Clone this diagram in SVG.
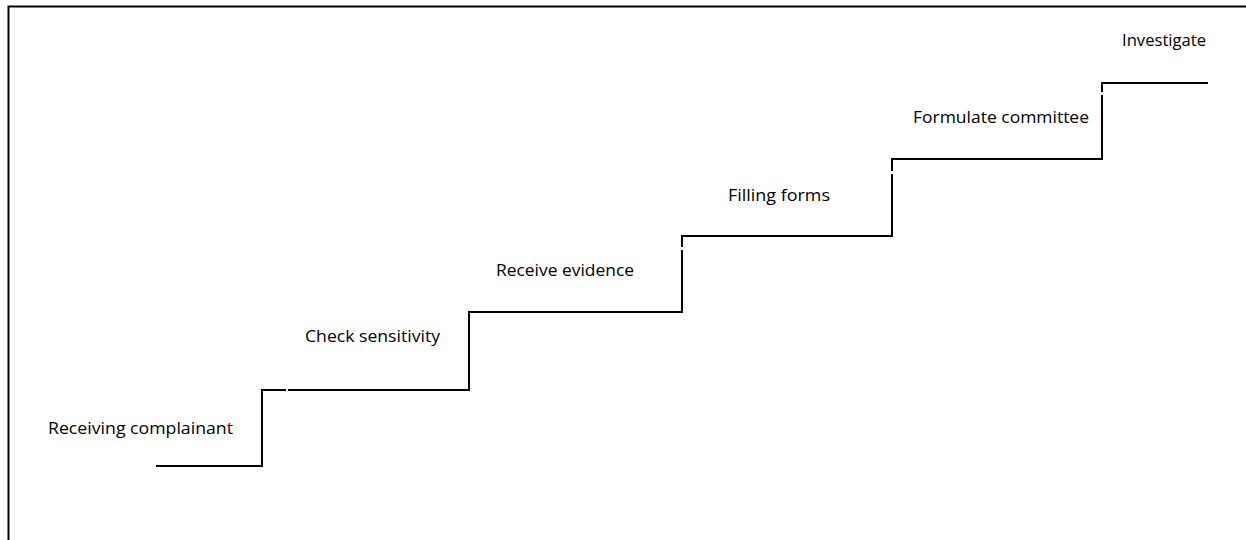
<svg xmlns="http://www.w3.org/2000/svg" width="1246" height="540" viewBox="0 0 1246 540">
<style>
.frame{fill:none;stroke:#000;stroke-width:2}
.stair{fill:none;stroke:#000;stroke-width:2}
.lbl{font-family:"Open Sans","Liberation Sans",sans-serif;font-size:16.5px;fill:#000}
</style>
<rect width="1246" height="540" fill="#fff"/>
<rect class="frame" x="8.5" y="6.5" width="1260" height="560"/>
<g id="connectors">
<path class="stair" d="M156,466 H262 V390 H286 M288,390 H469 V312 H682 V250 M682,247 V236 H892 V174 M892,171 V159 H1102 V95 M1102,92 V83 H1208"/>
</g>
<g id="n1"><text class="lbl" x="48" y="434" textLength="185" lengthAdjust="spacingAndGlyphs">Receiving complainant</text></g>
<g id="n2"><text class="lbl" x="305" y="342" textLength="135" lengthAdjust="spacingAndGlyphs">Check sensitivity</text></g>
<g id="n3"><text class="lbl" x="496" y="276" textLength="138" lengthAdjust="spacingAndGlyphs">Receive evidence</text></g>
<g id="n4"><text class="lbl" x="728" y="201" textLength="102" lengthAdjust="spacingAndGlyphs">Filling forms</text></g>
<g id="n5"><text class="lbl" x="913" y="123" textLength="176" lengthAdjust="spacingAndGlyphs">Formulate committee</text></g>
<g id="n6"><text class="lbl" x="1122" y="46" textLength="84" lengthAdjust="spacingAndGlyphs">Investigate</text></g>
</svg>
